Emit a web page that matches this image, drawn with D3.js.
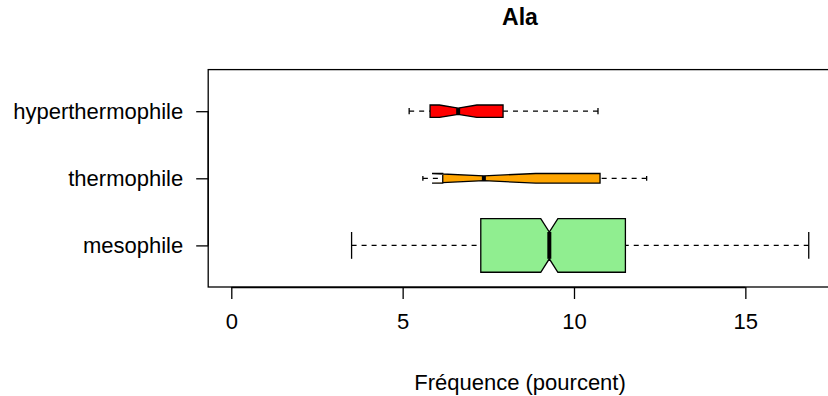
<!DOCTYPE html>
<html>
<head>
<meta charset="utf-8">
<script src="https://cdn.jsdelivr.net/npm/d3@7"></script>
<style>
  html, body { margin: 0; padding: 0; background: #fff; }
  svg { display: block; font-family: "Liberation Sans", Arial, Helvetica, sans-serif; }
</style>
</head>
<body>
<svg id="chart" width="828" height="396"></svg>
<script>
// Groups, bottom to top
const categories = ["mesophile", "thermophile", "hyperthermophile"];
// Five-number summaries: lower whisker, Q1, median, Q3, upper whisker
const whiskerLow  = [3.51, 5.59, 5.19];
const quartile1   = [7.28, 6.17, 5.80];
const medians     = [9.28, 7.37, 6.62];
const quartile3   = [11.50, 10.76, 7.93];
const whiskerHigh = [16.85, 12.12, 10.70];
// Group sizes (box width ~ sqrt(n), notch = median ± 1.58·IQR/√n)
const counts      = [712, 23, 38];
const fills       = ["#90EE90", "#FFA500", "#FF0000"];
const xTicks      = [0, 5, 10, 15];
const title       = "Ala";
const xTitle      = "Fréquence (pourcent)";

const svg = d3.select("#chart");

// Plot region
const plotLeft = 208.2, plotTop = 69.6, plotBottom = 287.0;
const xMin = 0, xMax = d3.max(whiskerHigh);
const pad = 0.04 * (xMax - xMin);
const unit = 34.27;
const plotRight = plotLeft + unit * (xMax - xMin + 2 * pad);

const x = d3.scaleLinear().domain([xMin - pad, xMax + pad]).range([plotLeft, plotRight]);
const y = d3.scaleLinear().domain([0.5 - 0.12, categories.length + 0.5 + 0.12]).range([plotBottom, plotTop]);

const boxHalf = (y(0) - y(0.8)) / 2;           // boxwex 0.8
const maxRoot = d3.max(counts, n => Math.sqrt(n));
const labelSize = 22;

const g = svg.append("g");

categories.forEach((cat, i) => {
  const cy = y(i + 1);
  const w = boxHalf * Math.sqrt(counts[i]) / maxRoot;
  const iqr = quartile3[i] - quartile1[i];
  const conf = 1.58 * iqr / Math.sqrt(counts[i]);
  const lo = medians[i] - conf, hi = medians[i] + conf;

  // Whiskers (dashed, drawn from the extremes inward) and staples
  [[whiskerLow[i], quartile1[i]], [whiskerHigh[i], quartile3[i]]].forEach(([a, b]) => {
    g.append("line")
      .attr("x1", x(a)).attr("x2", x(b))
      .attr("y1", cy).attr("y2", cy)
      .attr("stroke", "#000").attr("stroke-width", 1.2).attr("stroke-dasharray", "5,5");
  });
  [whiskerLow[i], whiskerHigh[i]].forEach(v => {
    g.append("line")
      .attr("x1", x(v)).attr("x2", x(v))
      .attr("y1", cy - w / 2).attr("y2", cy + w / 2)
      .attr("stroke", "#000").attr("stroke-width", 1.3);
  });

  // Notched box, same vertex order as R's bxp
  const pts = [
    [x(quartile1[i]), cy + w], [x(quartile1[i]), cy - w],
    [x(lo), cy - w], [x(medians[i]), cy - w / 2], [x(hi), cy - w],
    [x(quartile3[i]), cy - w], [x(quartile3[i]), cy + w],
    [x(hi), cy + w], [x(medians[i]), cy + w / 2], [x(lo), cy + w]
  ];
  g.append("polygon")
    .attr("points", pts.map(p => p.join(",")).join(" "))
    .attr("fill", fills[i]).attr("stroke", "#000").attr("stroke-width", 1.3)
    .attr("stroke-linejoin", "miter");

  // Median
  g.append("line")
    .attr("x1", x(medians[i])).attr("x2", x(medians[i]))
    .attr("y1", cy - w / 2).attr("y2", cy + w / 2)
    .attr("stroke", "#000").attr("stroke-width", 4);
});

// Frame
svg.append("rect")
  .attr("x", plotLeft).attr("y", plotTop)
  .attr("width", plotRight - plotLeft).attr("height", plotBottom - plotTop)
  .attr("fill", "none").attr("stroke", "#000").attr("stroke-width", 1.3);

// X axis
const xAxis = d3.axisBottom(x).tickValues(xTicks).tickSize(12).tickPadding(14).tickFormat(d3.format("d"));
const xg = svg.append("g").attr("transform", `translate(0,${plotBottom})`).call(xAxis);
xg.select(".domain").attr("d", `M${x(xTicks[0])},0.5H${x(xTicks[xTicks.length - 1])}`).attr("stroke-width", 1.3);
xg.selectAll(".tick line").attr("stroke-width", 1.3);
xg.selectAll("text").attr("font-size", labelSize).attr("fill", "#000").attr("font-family", null);

// Y axis
const yAxis = d3.axisLeft(y).tickValues(categories.map((c, i) => i + 1))
  .tickFormat((d) => categories[d - 1]).tickSize(12).tickPadding(13);
const yg = svg.append("g").attr("transform", `translate(${plotLeft},0)`).call(yAxis);
yg.select(".domain").attr("d", `M0,${y(1)}V${y(categories.length)}`).attr("stroke-width", 1.3);
yg.selectAll(".tick line").attr("stroke-width", 1.3);
yg.selectAll("text").attr("font-size", labelSize).attr("fill", "#000").attr("font-family", null);

// Titles
svg.append("text")
  .attr("x", (plotLeft + plotRight) / 2).attr("y", 25)
  .attr("text-anchor", "middle").attr("font-weight", "bold").attr("font-size", 23)
  .text(title);
svg.append("text")
  .attr("x", (plotLeft + plotRight) / 2).attr("y", 390)
  .attr("text-anchor", "middle").attr("font-size", labelSize)
  .text(xTitle);
</script>
</body>
</html>
